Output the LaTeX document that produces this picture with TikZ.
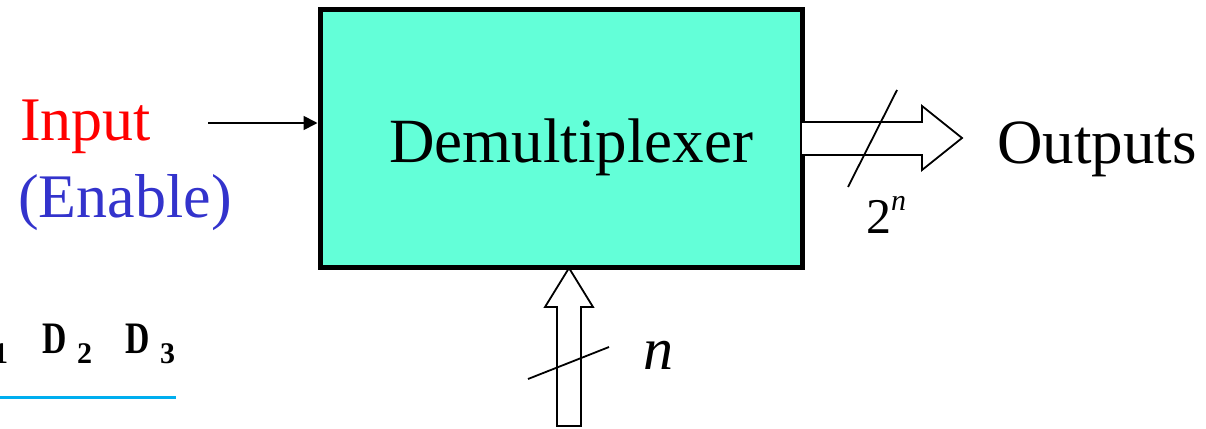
\documentclass[tikz,border=0pt]{standalone}
\usepackage{fontspec}
\setmainfont{Liberation Serif}
\usetikzlibrary{arrows.meta}
\definecolor{boxfill}{HTML}{63FFD8}
\definecolor{inred}{HTML}{FF0000}
\definecolor{enblue}{HTML}{3333CC}
\definecolor{lineblue}{HTML}{00AEEF}
\tikzset{
  bigtext/.style={inner sep=0pt, font=\fontsize{63}{70}\selectfont},
  hollow/.style={draw=black, line width=1.8pt, fill=white, line join=miter},
  slash/.style={draw=black, line width=1.8pt},
  dletter/.style={inner sep=0pt, anchor=base west, font=\fontsize{45}{50}\selectfont\bfseries},
  dsub/.style={inner sep=0pt, anchor=base west, font=\fontsize{30}{34}\selectfont\bfseries},
}
\begin{document}
\begin{tikzpicture}[x=1pt,y=-1pt]
\useasboundingbox (0,0) rectangle (1206,428);
\clip (0,0) rectangle (1206,428);
% main box
\node[draw=black, line width=5pt, fill=boxfill, minimum width=482pt, minimum height=257pt, inner sep=0pt] (box) at (561,138.5) {};
\node[bigtext, anchor=base west] (demux) at (389,162) {Demultiplexer};
% input
\node[bigtext, anchor=base west, text=inred, font=\fontsize{62}{70}\selectfont] (input) at (20,140) {Input};
\node[bigtext, anchor=base west, text=enblue, font=\fontsize{62}{70}\selectfont] (enable) at (18,217) {(Enable)};
\coordinate (instart) at (208,123);
\draw[line width=1.8pt, -{Triangle[length=14pt,width=14pt]}] (instart) -- (instart -| box.west);
% output hollow arrow
\path[hollow] (802,122) -- (922,122) -- (922,106) -- (962,138) -- (922,170) -- (922,155) -- (802,155);
\draw[slash] (848,187) -- (897,90);
\node[anchor=base west, inner sep=0pt, font=\fontsize{50}{56}\selectfont] (twon) at (866,233) {2\raisebox{0.45em}{\fontsize{30}{34}\selectfont\itshape n}};
\node[bigtext, anchor=base west] (outputs) at (997,163) {Outputs};
% select hollow arrow
\path[hollow] (557,426) -- (557,307) -- (545,307) -- (569,268) -- (593,307) -- (581,307) -- (581,426) -- cycle;
\draw[slash] (528,379) -- (609,347);
\node[anchor=base west, inner sep=0pt, font=\fontsize{60}{66}\selectfont\itshape] (nsel) at (643,369) {n};
% cropped table fragment
\node[dsub] (s1) at (-7,363) {1};
\node[dletter, xscale=0.75] (d2) at (42,353) {D};
\node[dsub] (s2) at (77,363) {2};
\node[dletter, xscale=0.75] (d3) at (125,353) {D};
\node[dsub] (s3) at (160,363) {3};
\draw[lineblue, line width=3pt] (0,397) -- (176,397);
\end{tikzpicture}
\end{document}
